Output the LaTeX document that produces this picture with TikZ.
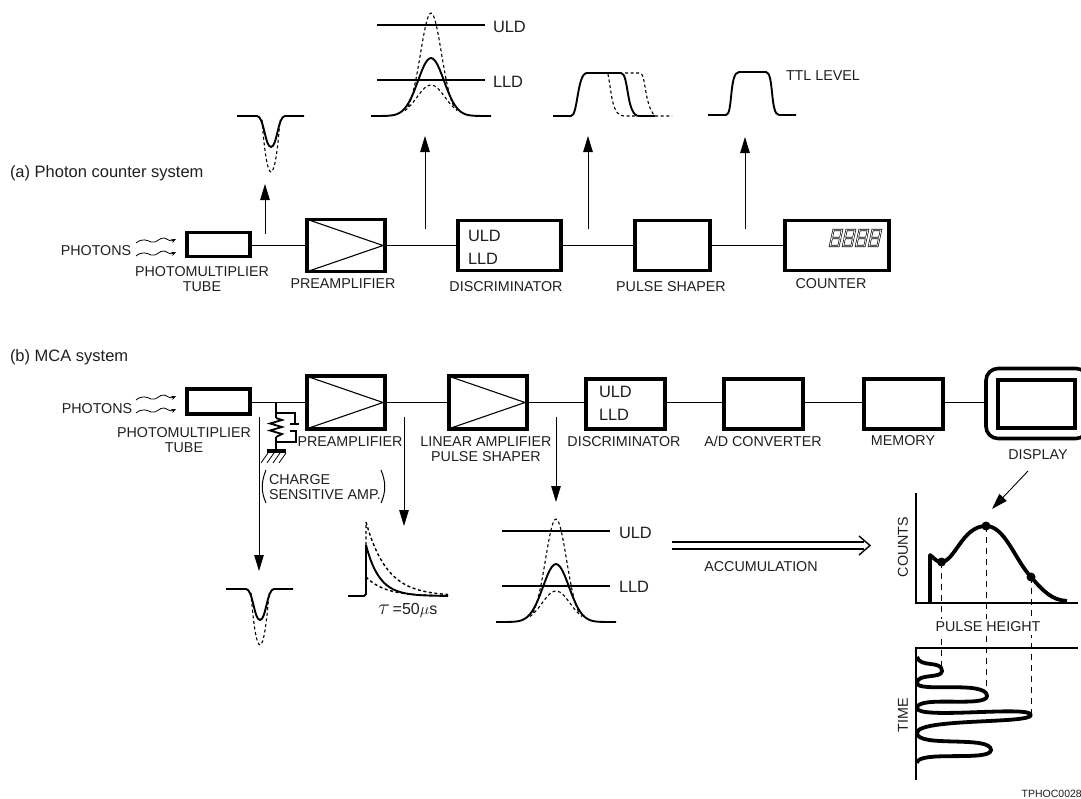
\documentclass[tikz,border=0pt]{standalone}
\usepackage{fix-cm}
\usepackage{fontspec}
\setmainfont{Liberation Sans}
\usetikzlibrary{arrows.meta}
\tikzset{
  block/.style={draw,line width=3.8pt,outer sep=0pt,inner sep=0pt},
  wire/.style={line width=1.3pt},
  tri/.style={line width=1.1pt,line join=miter},
  probe/.style={line width=0.9pt,-{Triangle[length=16pt,width=9.5pt]}},
  thinpath/.style={line width=1pt},
  solidp/.style={line width=1.9pt,line join=round},
  dashp/.style={line width=1.1pt,dash pattern=on 3pt off 2.6pt},
  level/.style={line width=1.5pt},
  lbl/.style={font=\fontsize{14.3}{15}\selectfont,inner sep=0pt,outer sep=0pt,align=center,text=black!88},
  ttl/.style={font=\fontsize{16.5}{17}\selectfont,inner sep=0pt,outer sep=0pt,text=black!88},
  inlbl/.style={font=\fontsize{16.4}{17}\selectfont,inner sep=0pt,outer sep=0pt,text=black!88},
  wave/.style={line width=0.8pt,-{Stealth[length=5pt,width=4pt]}},
  thickcurve/.style={line width=3.8pt,line join=round},
  guide/.style={line width=0.9pt,dash pattern=on 6pt off 5pt},
  dot/.style={circle,fill=black,inner sep=0pt,minimum size=9pt},
  negpulse/.pic={
    \draw[solidp] (-34,0) -- (-14,0) .. controls (-7,0) and (-6,31) .. (0,31) .. controls (6,31) and (7,0) .. (14,0) -- (33,0);
    \draw[dashp] (-9,4) .. controls (-7,30) and (-4,56) .. (0,56) .. controls (4,56) and (7,30) .. (9,4);
  },
  gausspulse/.pic={
    \draw[solidp] plot[domain=-60:60,samples=61,smooth] (\x,{-58*gs(\x,13)});
    \draw[dashp] plot[domain=-23:23,samples=31,smooth] (\x,{-103*gs(\x,10.5)});
    \draw[dashp] plot[domain=-26:26,samples=27,smooth] (\x,{-31*gs(\x,14)});
    \draw[level] (-54,-91) -- (54,-91);
    \draw[level] (-54,-36) -- (54,-36);
  },
}
\begin{document}
\begin{tikzpicture}[x=1pt,y=-1pt,declare function={gs(\x,\s)=exp(-\x*\x/(2*\s*\s));}]
\clip (0,0) rectangle (1081,798);
\fill[white] (0,0) rectangle (1081,798);

% ---------- (a) blocks
\node[ttl,anchor=west] (titlea) at (10,173.5) {(a) Photon counter system};
\node[block,minimum width=63pt,minimum height=24pt] (pmta) at (218.5,244.5) {};
\node[block,minimum width=78pt,minimum height=52pt] (prea) at (346,245.5) {};
\node[block,minimum width=103pt,minimum height=50pt] (disca) at (509.5,245.5) {};
\node[block,minimum width=75pt,minimum height=50pt] (shapa) at (672.5,245.5) {};
\node[block,minimum width=104pt,minimum height=50pt] (cnta) at (837,245.5) {};
\draw[wire] (pmta.east |- prea.center) -- (prea.west);
\draw[wire] (prea) -- (disca);
\draw[wire] (disca) -- (shapa);
\draw[wire] (shapa) -- (cnta);
\draw[tri] (309,220) -- (383,245.5) -- (309,271);
\node[inlbl,anchor=west] (ulda) at (468,236) {ULD};
\node[inlbl,anchor=west] (llda) at (468,259) {LLD};
\foreach \dx in {830,843,856,869}
  \draw[line width=0.65pt,double=white,double distance=0.8pt,line join=miter]
    (\dx,246) -- (\dx+3.5,230) -- (\dx+12,230) -- (\dx+8.5,246) -- cycle
    (\dx+1.7,238) -- (\dx+10.3,238);

\node[lbl] (pha) at (96,250.5) {PHOTONS};
\node[lbl] (pmtla) at (202,279) {PHOTOMULTIPLIER\\[0pt]TUBE};
\node[lbl] (prela) at (343,283.5) {PREAMPLIFIER};
\node[lbl] (discla) at (506,286.5) {DISCRIMINATOR};
\node[lbl] (shapla) at (671,286.5) {PULSE SHAPER};
\node[lbl] (cntla) at (831,283.5) {COUNTER};
\node[lbl,anchor=west] (ttll) at (786,75.5) {TTL LEVEL};
\node[inlbl,anchor=west] (uldua) at (493,27) {ULD};
\node[inlbl,anchor=west] (lldua) at (493,82) {LLD};

\draw[wave] (136,243) .. controls (142,238) and (147,240) .. (151,242) .. controls (156,244) and (160,237) .. (164,238) .. controls (168,239) and (170,242) .. (176,239);
\draw[wave] (136,256) .. controls (142,251) and (147,253) .. (151,255) .. controls (156,257) and (160,250) .. (164,251) .. controls (168,252) and (170,255) .. (176,252);

\coordinate (as1) at (265,234); \coordinate (at1) at (265,184);
\coordinate (as2) at (425,229); \coordinate (at2) at (425,136);
\coordinate (as3) at (588,229); \coordinate (at3) at (588,136);
\coordinate (as4) at (745,229); \coordinate (at4) at (745,137);
\draw[probe] (as1) -- (at1);
\draw[probe] (as2) -- (at2);
\draw[probe] (as3) -- (at3);
\draw[probe] (as4) -- (at4);

\pic at (271,116) {negpulse};
\pic at (431,116) {gausspulse};
% discriminator output
\draw[solidp] (553,116) -- (571,116) .. controls (578,116) and (577,73) .. (587,73) -- (621,73) .. controls (629,73) and (626,116) .. (639,116) -- (655,116);
\draw[dashp] (608,74) .. controls (612,95) and (612,116) .. (624,116) -- (639,116);
\draw[dashp] (625,73) -- (640,73) .. controls (646,73) and (644,105) .. (655,116) -- (672,116);
% TTL
\draw[solidp] (708,115) -- (726,115) .. controls (733,115) and (729,72) .. (739,72) -- (766,72) .. controls (774,72) and (770,115) .. (779,115) -- (796,115);

% ---------- (b) blocks
\node[ttl,anchor=west] (titleb) at (10,357.5) {(b) MCA system};
\node[block,minimum width=63pt,minimum height=25pt] (pmtb) at (218.5,401.5) {};
\node[block,minimum width=78pt,minimum height=53pt] (preb) at (346,402.5) {};
\node[block,minimum width=78pt,minimum height=53pt] (linb) at (488,402.5) {};
\node[block,minimum width=79pt,minimum height=50pt] (discb) at (625.5,404) {};
\node[block,minimum width=79pt,minimum height=50pt] (adb) at (763.5,404) {};
\node[block,minimum width=79pt,minimum height=50pt] (memb) at (903.5,404) {};
\node[draw,line width=3.6pt,outer sep=0pt,inner sep=0pt,rounded corners=12pt,minimum width=102pt,minimum height=70pt] (dispout) at (1037,403.5) {};
\node[block,minimum width=77pt,minimum height=48pt] (dispin) at (1036.5,404) {};
\draw[wire] (pmtb.east |- preb.center) -- (preb.west);
\draw[wire] (preb) -- (linb);
\draw[wire] (linb.east) -- (linb.east -| discb.west);
\draw[wire] (linb.east -| discb.east) -- (linb.east -| adb.west);
\draw[wire] (linb.east -| adb.east) -- (linb.east -| memb.west);
\draw[wire] (linb.east -| memb.east) -- (linb.east -| dispout.west);
\draw[tri] (309,377) -- (383,402.5) -- (309,428);
\draw[tri] (451,377) -- (525,402.5) -- (451,428);
\node[inlbl,anchor=west] (uldb) at (599,392) {ULD};
\node[inlbl,anchor=west] (lldb) at (599,415) {LLD};

\node[lbl] (phb) at (97,408.5) {PHOTONS};
\node[lbl] (pmtlb) at (184,440.5) {PHOTOMULTIPLIER\\[0pt]TUBE};
\node[lbl] (prelb) at (350,441.5) {PREAMPLIFIER};
\node[lbl] (linlb) at (486,449) {LINEAR AMPLIFIER\\[0pt]PULSE SHAPER};
\node[lbl] (disclb) at (624,441.5) {DISCRIMINATOR};
\node[lbl] (adlb) at (763,441.5) {A/D CONVERTER};
\node[lbl] (memlb) at (903,440.5) {MEMORY};
\node[lbl] (displb) at (1038,454.5) {DISPLAY};

\draw[wave] (136,400) .. controls (142,395) and (147,397) .. (151,399) .. controls (156,401) and (160,394) .. (164,395) .. controls (168,396) and (170,399) .. (176,396);
\draw[wave] (136,413) .. controls (142,408) and (147,410) .. (151,412) .. controls (156,414) and (160,407) .. (164,408) .. controls (168,409) and (170,412) .. (176,409);

% charge sensitive network
\coordinate (rtop) at (276,402.5);
\coordinate (gnd) at (276,451);
\draw[line width=1.3pt] (rtop) -- (276,418);
\draw[line width=1.8pt,line join=miter] (276,418) -- (282,420) -- (270,423.5) -- (282,427) -- (270,430.5) -- (282,434) -- (276,437);
\draw[line width=1.3pt] (276,437) -- (gnd);
\draw[line width=1.3pt] (276,413) -- (295,413) -- (295,424) (290,424) -- (299,424);
\draw[line width=1.3pt] (290,431) -- (296,431) -- (296,442) -- (276,442);
\draw[line width=3.8pt] (267,451) -- (286,451);
\foreach \hx in {272,278,284,290}
  \draw[line width=0.8pt] (\hx-4,453) -- (\hx-11,463);

\node[lbl,anchor=west,align=left] (csa) at (269,487.5) {CHARGE\\[0pt]SENSITIVE AMP.};
\draw[thinpath] (266,470) .. controls (261,482) and (261,492) .. (266,503);
\draw[thinpath] (381,470) .. controls (386,482) and (386,492) .. (381,503);

\coordinate (bs1) at (259,417); \coordinate (bt1) at (259,571);
\coordinate (bs2) at (404,417); \coordinate (bt2) at (404,526);
\coordinate (bs3) at (556,417); \coordinate (bt3) at (556,502);
\draw[probe] (bs1) -- (bt1);
\draw[probe] (bs2) -- (bt2);
\draw[probe] (bs3) -- (bt3);

\pic at (260,589) {negpulse};

% preamp output
\draw[solidp] (348,596) -- (364,596) -- (366,594) -- (366,545) plot[domain=0:82,samples=42,smooth] ({366+\x},{596-51*exp(-\x/13.4)});
\draw[dashp,line width=1.4pt] (366,545) -- (366,522) plot[domain=0:82,samples=42,smooth] ({366+\x},{596-74*exp(-\x/21)});
\draw[dashp,line width=1.4pt] plot[domain=0:82,samples=30,smooth] ({366+\x},{596-19*exp(-\x/19)});
\node[anchor=west,inner sep=0pt,text=black!88,font=\fontsize{16}{17}\selectfont] (tau) at (378,610) {\fontsize{22}{22}\selectfont$\tau$\fontsize{16}{17}\selectfont\,=50$\mu$s};

\pic at (556,622) {gausspulse};
\node[inlbl,anchor=west] (uldlb) at (619,533) {ULD};
\node[inlbl,anchor=west] (lldlb) at (619,587) {LLD};

% accumulation arrow
\coordinate (ds) at (672,545.5); \coordinate (dt) at (870,545.5);
\draw[line width=1.4pt,double=white,double distance=5.5pt] (ds) -- (864,545.5);
\draw[line width=1.4pt,line join=miter] (859,536) -- (dt) -- (859,555);
\node[lbl] (acc) at (761,566.5) {ACCUMULATION};

% spectrum
\coordinate (dispa) at (1028,471); \coordinate (dispb) at (992,509);
\draw[line width=0.9pt,-{Triangle[length=16pt,width=10pt]}] (dispa) -- (dispb);
\draw[guide] (941.5,562) -- (941.5,668);
\draw[guide] (986,526) -- (986,697);
\draw[guide] (1031,577) -- (1031,715);
\draw[line width=1.9pt] (916,493) -- (916,603) -- (1078,603);
\draw[thickcurve] (930,603) -- (930,555) .. controls (935,559) and (937,562) .. (941,562) .. controls (955,562) and (962,526) .. (986,526) .. controls (1005,526) and (1015,560) .. (1031,577) .. controls (1044,592) and (1052,600) .. (1067,601);
\node[dot] (d1) at (941.5,562) {};
\node[dot] (d2) at (986,526) {};
\node[dot] (d3) at (1031,577) {};
\node[lbl,rotate=90] (counts) at (903,547) {COUNTS};
\node[lbl,fill=white,inner ysep=3pt,inner xsep=2pt] (ph) at (988,627) {PULSE HEIGHT};

\draw[line width=1.9pt] (916,780) -- (916,648) -- (1078,648);
\draw[thickcurve] (917,657) .. controls (920,668) and (942,660) .. (942,671) .. controls (942,679) and (917,673) .. (917,683) .. controls (917,693) and (987,680) .. (987,696) .. controls (987,708) and (917,695) .. (917,708) .. controls (917,720) and (1031,705) .. (1031,715) .. controls (1031,724) and (917,718) .. (917,733) .. controls (917,748) and (991,735) .. (991,750) .. controls (991,762) and (917,750) .. (917,763);
\node[lbl,rotate=90] (time) at (903,715) {TIME};
\node[anchor=east,inner sep=0pt,font=\fontsize{10.5}{11}\selectfont,text=black!88] (code) at (1082,794) {TPHOC0028};
\end{tikzpicture}
\end{document}
